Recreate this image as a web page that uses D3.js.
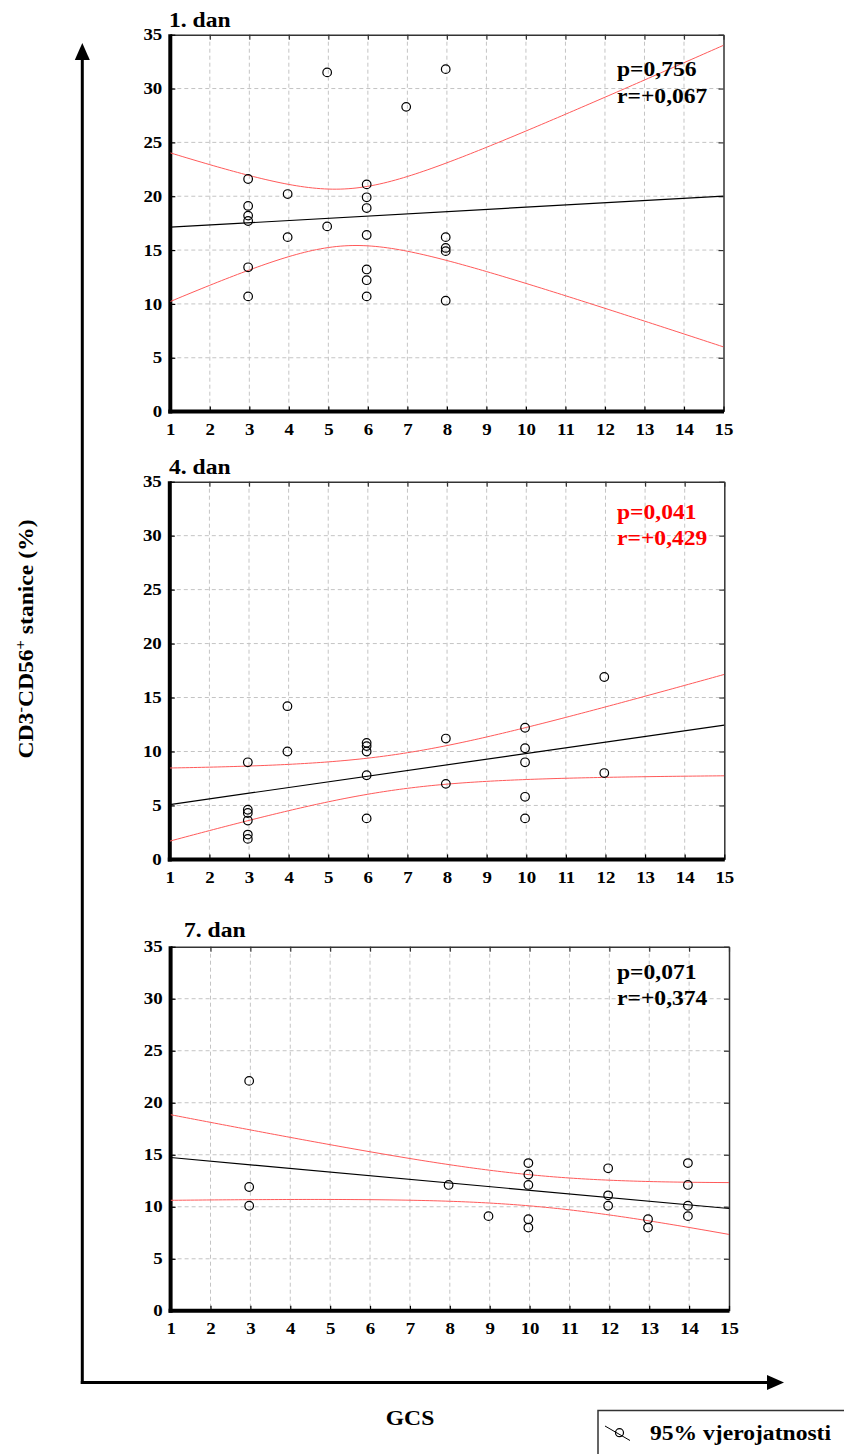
<!DOCTYPE html>
<html><head><meta charset="utf-8">
<script src="https://cdn.jsdelivr.net/npm/d3@7"></script>
<style>
body{margin:0;background:#fff}
svg{display:block}
text{font-family:"Liberation Serif","Times New Roman",serif !important;font-weight:bold;fill:#000}
</style>
</head><body>
<svg id="chart" width="844" height="1454"></svg>
<script>
// ---- data ----
const xTicks = [1,2,3,4,5,6,7,8,9,10,11,12,13,14,15];
const yTicks = [0,5,10,15,20,25,30,35];
const panelTitles = ["1. dan","4. dan","7. dan"];
const pLabels = ["p=0,756","p=0,041","p=0,071"];
const rLabels = ["r=+0,067","r=+0,429","r=+0,374"];

const day1GCS   = [3,3,3,3,3,3,4,4,5,5,6,6,6,6,6,6,6,7,8,8,8,8,8];
const day1Cells = [21.6,19.1,18.2,17.7,13.4,10.7,20.2,16.2,31.5,17.2,21.1,19.9,18.9,16.4,13.2,12.2,10.7,28.3,31.8,16.2,15.2,14.9,10.3];

const day4GCS   = [3,3,3,3,3,3,4,4,6,6,6,6,6,8,8,10,10,10,10,10,12,12];
const day4Cells = [9.0,4.6,4.3,3.6,2.3,1.9,14.2,10.0,10.8,10.5,10.0,7.8,3.8,11.2,7.0,12.2,10.3,9.0,5.8,3.8,16.9,8.0];

const day7GCS   = [3,3,3,8,9,10,10,10,10,10,12,12,12,13,13,14,14,14,14];
const day7Cells = [22.1,11.9,10.1,12.1,9.1,14.2,13.1,12.1,8.8,8.0,13.7,11.1,10.1,8.8,8.0,14.2,12.1,10.1,9.1];

const xLabel = "GCS";
const legendLabel = "95% vjerojatnosti";

// ---- layout (positions / styles) ----
const layout = [
  {left:170.3, right:723.5, top:34.7,  bottom:411.6,  titleX:169, titleY:26.5,  pY:76,    rY:103.3, statColor:"#000"},
  {left:169.8, right:724.3, top:481.7, bottom:859.4,  titleX:169, titleY:473.5, pY:519.3, rY:545,   statColor:"#ff0000"},
  {left:170.6, right:729,   top:946.7, bottom:1310.8, titleX:184, titleY:936.7, pY:979.3, rY:1005,  statColor:"#000"}
];
const datasets = [
  {x:day1GCS, y:day1Cells},
  {x:day4GCS, y:day4Cells},
  {x:day7GCS, y:day7Cells}
];
const SX = 1.18;   // horizontal text stretch
const statX = 617;
const FONT = '"Liberation Serif","Times New Roman",serif';

const svg = d3.select("#chart");

// t quantile (0.975) approximation
function tq(df){
  const z = 1.959964;
  return z + (z**3+z)/(4*df) + (5*z**5+16*z**3+3*z)/(96*df*df) + (3*z**7+19*z**5+17*z**3-15*z)/(384*df**3);
}

function fit(xs, ys){
  const n = xs.length;
  const mx = d3.mean(xs), my = d3.mean(ys);
  let sxx=0, sxy=0, syy=0;
  for(let i=0;i<n;i++){ sxx+=(xs[i]-mx)**2; sxy+=(xs[i]-mx)*(ys[i]-my); syy+=(ys[i]-my)**2; }
  const b = sxy/sxx, a = my - b*mx;
  const sse = syy - sxy*sxy/sxx;
  const s = Math.sqrt(sse/(n-2));
  const c = tq(n-2)*s;
  return {a,b,mx,sxx,n,c};
}

function stretchText(sel, x, y){
  sel.attr("transform", `translate(${x},${y}) scale(${SX},1)`);
}

layout.forEach((L, i) => {
  const ds = datasets[i];
  const x = d3.scaleLinear().domain([1,15]).range([L.left, L.right]);
  const y = d3.scaleLinear().domain([0,35]).range([L.bottom, L.top]);
  const g = svg.append("g");

  const cid = "clip"+i;
  svg.append("clipPath").attr("id",cid).append("rect")
    .attr("x",L.left).attr("y",L.top).attr("width",L.right-L.left).attr("height",L.bottom-L.top);

  // grid
  g.append("g").selectAll("line").data(xTicks.slice(1,-1)).join("line")
    .attr("x1",d=>x(d)).attr("x2",d=>x(d)).attr("y1",L.top).attr("y2",L.bottom)
    .attr("stroke","#c4c4c4").attr("stroke-width",1).attr("stroke-dasharray","4,3");
  g.append("g").selectAll("line").data(yTicks.slice(1,-1)).join("line")
    .attr("y1",d=>y(d)).attr("y2",d=>y(d)).attr("x1",L.left).attr("x2",L.right)
    .attr("stroke","#c4c4c4").attr("stroke-width",1).attr("stroke-dasharray","4,3");

  // top & right axes (ticks inward, no labels)
  const top = g.append("g").attr("transform",`translate(0,${L.top})`)
    .call(d3.axisTop(x).tickValues(xTicks).tickSizeInner(-5).tickSizeOuter(0).tickFormat(""));
  const right = g.append("g").attr("transform",`translate(${L.right},0)`)
    .call(d3.axisRight(y).tickValues(yTicks).tickSizeInner(-5).tickSizeOuter(0).tickFormat(""));
  [top,right].forEach(a=>{
    a.select(".domain").attr("stroke","#333").attr("stroke-width",1.5);
    a.selectAll(".tick line").attr("stroke","#333").attr("stroke-width",1.2);
  });

  // left axis
  const left = g.append("g").attr("transform",`translate(${L.left},0)`)
    .call(d3.axisLeft(y).tickValues(yTicks).tickSizeInner(-5).tickSizeOuter(0).tickPadding(7));
  left.attr("font-family",FONT).attr("font-size",16);
  left.select(".domain").remove();
  left.selectAll(".tick line").attr("stroke","#000").attr("stroke-width",1.2);
  left.selectAll(".tick text").style("font-family",FONT).style("font-size","16px")
    .attr("transform",`scale(${SX},1)`).attr("x",-6.8);

  // bottom axis
  const bottom = g.append("g").attr("transform",`translate(0,${L.bottom})`)
    .call(d3.axisBottom(x).tickValues(xTicks).tickSizeInner(-5).tickSizeOuter(0).tickPadding(12));
  bottom.attr("font-family",FONT).attr("font-size",16);
  bottom.select(".domain").remove();
  bottom.selectAll(".tick line").attr("stroke","#000").attr("stroke-width",1.2);
  bottom.selectAll(".tick text").style("font-family",FONT).style("font-size","16px")
    .attr("transform",`scale(${SX},1)`);

  // thick frame lines
  g.append("line").attr("x1",x(1)).attr("x2",x(1)).attr("y1",y(35)-0.5).attr("y2",y(0)+2)
    .attr("stroke","#000").attr("stroke-width",4);
  g.append("line").attr("x1",x(1)-2).attr("x2",x(15)+0.5).attr("y1",y(0)).attr("y2",y(0))
    .attr("stroke","#000").attr("stroke-width",4);

  // regression + 95% confidence band, computed from the points
  const f = fit(ds.x, ds.y);
  const xs = d3.range(1, 15.0001, 0.1);
  const line = d3.line().x(d=>x(d[0])).y(d=>y(d[1]));
  const band = sgn => xs.map(v => {
    const yh = f.a + f.b*v;
    const h = f.c*Math.sqrt(1/f.n + (v-f.mx)**2/f.sxx);
    return [v, yh + sgn*h];
  });
  const lg = g.append("g").attr("clip-path",`url(#${cid})`);
  lg.append("path").attr("d", line(band(1))).attr("fill","none").attr("stroke","#ff5a5a").attr("stroke-width",1);
  lg.append("path").attr("d", line(band(-1))).attr("fill","none").attr("stroke","#ff5a5a").attr("stroke-width",1);
  lg.append("path").attr("d", line([[1,f.a+f.b*1],[15,f.a+f.b*15]]))
    .attr("fill","none").attr("stroke","#000").attr("stroke-width",1.2);

  // points
  g.append("g").selectAll("circle").data(ds.x.map((v,k)=>[v,ds.y[k]])).join("circle")
    .attr("cx",d=>x(d[0])-1.2).attr("cy",d=>y(d[1])).attr("r",4.3)
    .attr("fill","none").attr("stroke","#000").attr("stroke-width",1.2);

  // title
  g.append("text").text(panelTitles[i]).attr("font-size",20)
    .call(s=>stretchText(s, L.titleX, L.titleY));
  // stats
  g.append("text").text(pLabels[i]).attr("font-size",20).style("fill",L.statColor)
    .call(s=>stretchText(s, statX, L.pY));
  g.append("text").text(rLabels[i]).attr("font-size",20).style("fill",L.statColor)
    .call(s=>stretchText(s, statX, L.rY));
});

// ---- outer axes with arrows ----
const ax = 82.3, ay = 1382.5;
svg.append("line").attr("x1",ax).attr("x2",ax).attr("y1",56).attr("y2",ay+1.5)
  .attr("stroke","#000").attr("stroke-width",3);
svg.append("path").attr("d",`M${ax},43 L${ax-7.5},60 L${ax+7.5},60 Z`).attr("fill","#000");
svg.append("line").attr("x1",ax-1.5).attr("x2",772).attr("y1",ay).attr("y2",ay)
  .attr("stroke","#000").attr("stroke-width",3);
svg.append("path").attr("d",`M784,${ay} L767,${ay-7.5} L767,${ay+7.5} Z`).attr("fill","#000");

// y label
const yl = svg.append("text").attr("font-size",20).attr("text-anchor","middle")
  .attr("transform",`translate(33,639) rotate(-90) scale(${SX},1)`);
yl.append("tspan").text("CD3");
yl.append("tspan").text("-").attr("font-size",14).attr("dy",-8);
yl.append("tspan").text("CD56").attr("dy",8);
yl.append("tspan").text("+").attr("font-size",14).attr("dy",-8);
yl.append("tspan").text(" stanice (%)").attr("dy",8);

// x label
svg.append("text").text(xLabel).attr("font-size",20).attr("text-anchor","middle")
  .attr("transform",`translate(410,1425) scale(${SX},1)`);

// legend
svg.append("path").attr("d","M598,1454 V1410.5 H844").attr("fill","none").attr("stroke","#333").attr("stroke-width",1.5);
svg.append("line").attr("x1",605).attr("y1",1426).attr("x2",630).attr("y2",1440.5).attr("stroke","#000").attr("stroke-width",1);
svg.append("circle").attr("cx",619.5).attr("cy",1432.7).attr("r",4).attr("fill","none").attr("stroke","#000").attr("stroke-width",1.2);
svg.append("text").text(legendLabel).attr("font-size",20)
  .attr("transform",`translate(650,1440) scale(${SX},1)`);
</script>
</body></html>
